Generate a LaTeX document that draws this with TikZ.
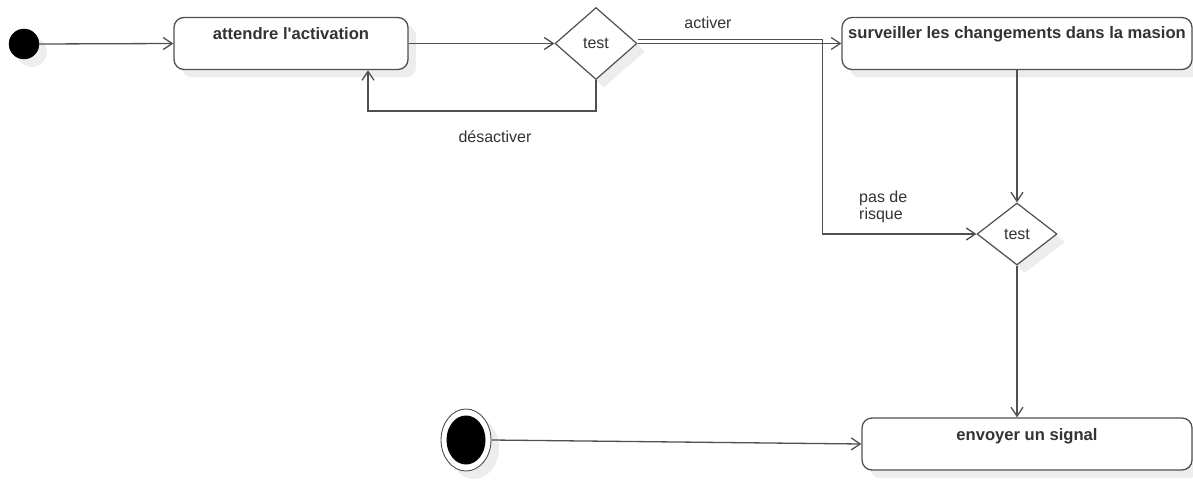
\documentclass[tikz,border=0pt]{standalone}
\usepackage{fontspec}
\setmainfont{Liberation Sans}
\usetikzlibrary{shapes.geometric,arrows.meta,calc,shadows}
\definecolor{ln}{HTML}{505050}
\definecolor{tx}{HTML}{333333}
\definecolor{sh}{HTML}{EDEDED}
\begin{document}
\begin{tikzpicture}[x=1pt,y=-1pt,
  shadowed/.style={general shadow={fill=sh, shadow xshift=8pt, shadow yshift=-8pt}},
  statebox/.style={draw=ln, line width=1.3pt, rounded corners=10pt, fill=white, shadowed, inner sep=0pt},
  btxt/.style={text=tx, font=\bfseries\fontsize{16.6}{19}\selectfont, inner sep=0pt},
  ltxt/.style={text=tx, font=\fontsize{16}{17}\selectfont, inner sep=0pt},
  decision/.style={diamond, draw=ln, fill=white, line width=1.2pt, inner sep=0pt, text=tx, font=\fontsize{16}{19}\selectfont, shadowed},
  edge/.style={draw=ln, line width=1.3pt, -{Straight Barb[length=9pt,width=12pt]}},
  plain/.style={draw=ln, line width=1.3pt}
]
\useasboundingbox (0,0) rectangle (1193,484);
% initial node
\node[circle, fill=black, draw=black, minimum size=30pt, inner sep=0pt, shadowed] (init) at (24,44) {};
% states
\node[statebox, minimum width=234pt, minimum height=52pt] (a) at (291,43.5) {};
\node[btxt] (at) at (291,34) {attendre l\textquotesingle activation};
\node[decision, minimum width=82pt, minimum height=72pt] (d1) at (596,43.5) {test};
\node[statebox, minimum width=350pt, minimum height=52pt] (b) at (1017,43.5) {};
\node[btxt] (bt) at (1017,34) {surveiller les changements dans la masion};
\node[decision, minimum width=80pt, minimum height=62pt] (d2) at (1017,234) {test};
\node[statebox, minimum width=330pt, minimum height=52pt] (c) at (1027,444) {};
\node[btxt] (ct) at (1027,436) {envoyer un signal};
% final node
\node[ellipse, draw=ln, line width=0.9pt, fill=white, minimum width=50pt, minimum height=62pt, inner sep=0pt, shadowed] (fin) at (466,440) {};
\node[ellipse, fill=black, minimum width=39pt, minimum height=49pt, inner sep=0pt] (finin) at (466,440) {};
% edges
\draw[edge] (init.east) -- (a.west);
\draw[edge] (a.east) -- (d1.west);
\draw[edge] (d1.east) -- (b.west);
\draw[edge] ([yshift=4pt]d1.east) -- ++(185,0) |- (d2.west);
\draw[edge] (d1.south) -- ++(0,31) -| ([xshift=77pt]a.south);
\draw[edge] (b.south -| d2.north) -- (d2.north);
\draw[edge] (d2.south) -- (d2.south |- c.north);
\draw[edge] (fin.east) -- (c.west);
% labels
\node[ltxt] (l1) at (708,23) {activer};
\node[ltxt] (l2) at (495,137) {désactiver};
\node[ltxt, align=left, anchor=north west] (l3) at (859,191) {pas de\\risque};
\end{tikzpicture}
\end{document}
